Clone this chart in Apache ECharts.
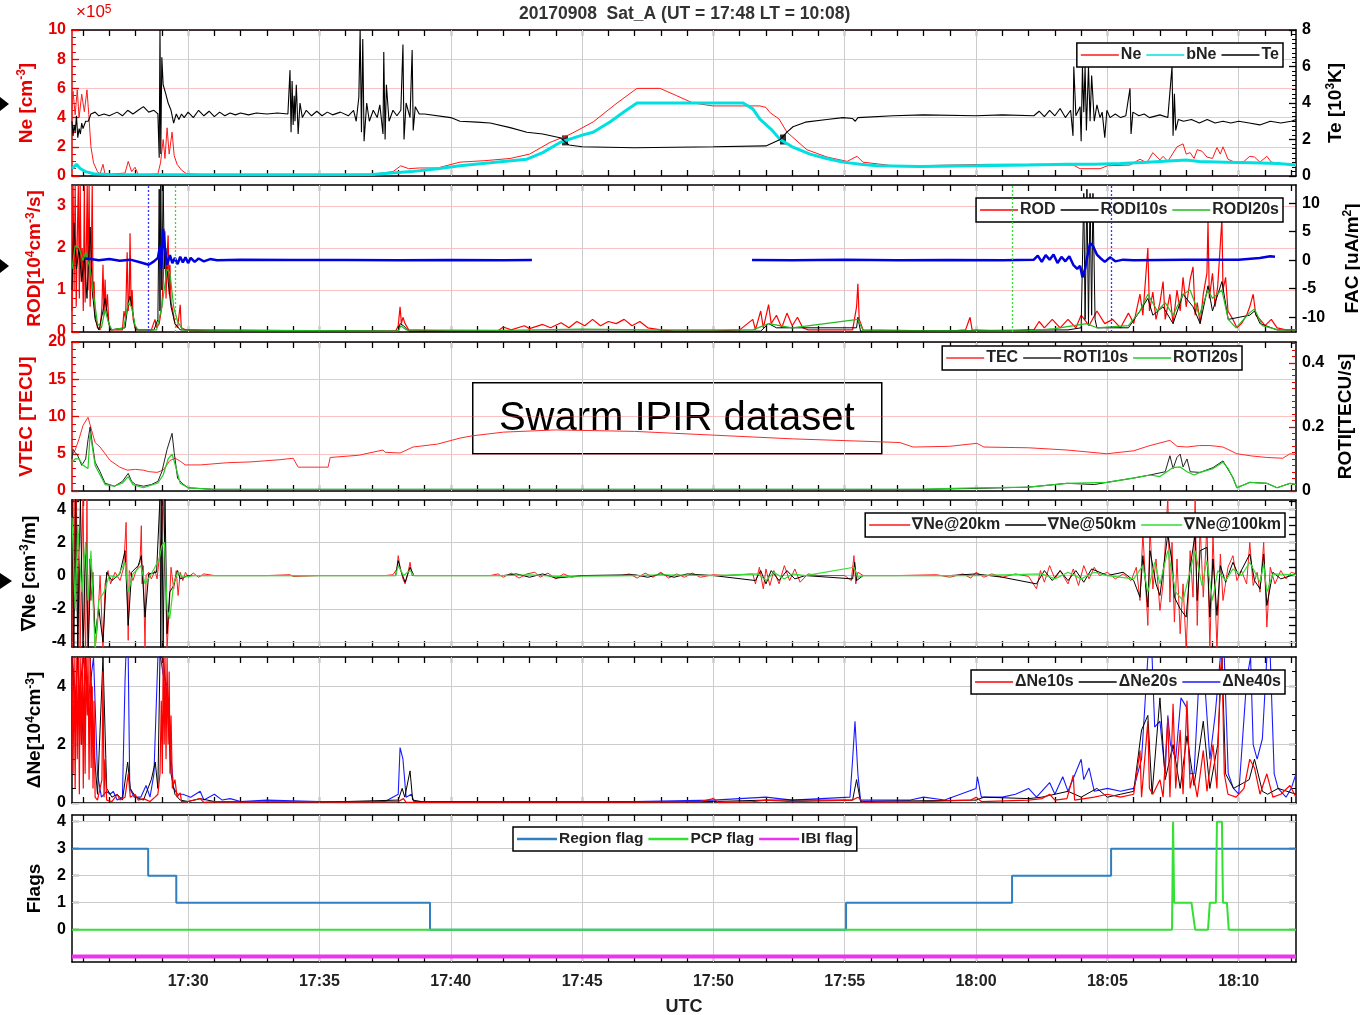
<!DOCTYPE html>
<html><head><meta charset="utf-8">
<script src="https://cdn.jsdelivr.net/npm/echarts@6/dist/echarts.min.js"></script>
<style>html,body{margin:0;padding:0;background:#fff}#c{width:1360px;height:1015px}</style>
</head><body><div id="c"></div>
<script>
// ---------------- DATA (time = minutes after 17:00 UT) ----------------
const tStart = 25.58, tEnd = 72.18;
const majorTimes = [30,35,40,45,50,55,60,65,70];
const minuteTimes = [26,27,28,29,30,31,32,33,34,35,36,37,38,39,40,41,42,43,44,45,46,47,48,49,50,51,52,53,54,55,56,57,58,59,60,61,62,63,64,65,66,67,68,69,70,71,72];

const neTicks = [0,2,4,6,8,10];
const teTicks = [0,2,4,6,8];
const rodTicks = [0,1,2,3];
const facTicks = [-10,-5,0,5,10];
const tecTicks = [0,5,10,15,20];
const rotiTicks = [0,0.2,0.4];
const gradTicks = [-4,-2,0,2,4];
const gradMinorTicks = [-4,-3.5,-3,-2.5,-2,-1.5,-1,-0.5,0,0.5,1,1.5,2,2.5,3,3.5,4,4.5];
const dneTicks = [0,2,4];
const flagTicks = [0,1,2,3,4];

// Panel 1: Ne (1e5 cm^-3), bNe, Te (1e3 K)
const neData = [[25.58,4.6],[25.62,5.8],[25.70,4.2],[25.78,5.9],[25.85,4.0],[25.95,5.6],[26.05,4.4],[26.15,5.9],[26.22,4.2],[26.30,2.0],[26.40,0.9],[26.55,0.3],[26.65,0.15],[26.76,0.8],[26.84,0.1],[27.0,0.1],[27.2,0.15],[27.60,0.2],[27.72,1.0],[27.85,0.3],[27.98,0.6],[28.1,0.1],[28.5,0.1],[28.85,0.15],[28.95,0.9],[29.05,2.5],[29.12,1.2],[29.20,3.3],[29.28,1.5],[29.39,3.0],[29.47,1.4],[29.58,0.8],[29.75,0.4],[29.95,0.15],[30.5,0.1],[32,0.1],[34,0.1],[36,0.1],[37,0.12],[37.8,0.3],[38.1,0.7],[38.4,0.5],[38.8,0.55],[39.5,0.55],[40.35,0.95],[41.3,1.05],[42.26,1.2],[43.0,1.5],[43.78,2.3],[44.54,2.85],[45.42,3.7],[46.33,5.0],[47.09,6.0],[47.97,6.0],[48.6,5.5],[49.22,5.0],[49.98,4.8],[51.13,4.8],[51.77,4.8],[52.0,4.7],[52.15,4.35],[52.5,3.9],[52.80,3.0],[53.56,1.8],[54.32,1.3],[55.09,1.0],[55.47,1.35],[55.69,0.95],[56.84,0.7],[57.86,0.7],[59,0.75],[60.5,0.8],[62.5,0.8],[63.7,0.75],[63.96,0.5],[64.72,0.5],[65.0,0.7],[65.86,0.75],[66.24,1.15],[66.5,0.9],[66.73,1.6],[67.0,1.1],[67.12,1.35],[67.3,1.0],[67.65,2.0],[67.88,2.2],[68.0,1.5],[68.15,1.6],[68.30,1.2],[68.42,1.8],[68.6,1.7],[68.79,1.3],[69.0,1.2],[69.17,1.95],[69.3,1.5],[69.40,2.0],[69.59,1.15],[69.9,0.9],[70.2,1.0],[70.42,1.35],[70.6,1.3],[70.81,0.95],[71.07,1.35],[71.24,0.95],[71.6,0.85],[71.95,0.8],[72.18,0.8]];
const bneData = [[25.58,0.5],[25.75,0.8],[25.9,0.5],[26.1,0.3],[26.4,0.15],[27,0.1],[30,0.08],[34,0.08],[37,0.1],[38.5,0.3],[39.5,0.5],[40.35,0.7],[41.5,0.9],[42.90,1.15],[43.5,1.6],[44.16,2.3],[45.0,2.8],[45.42,3.0],[46.06,3.7],[46.6,4.4],[47.09,5.0],[49,5.0],[51.13,5.0],[51.5,4.6],[51.77,3.9],[52.2,3.2],[52.54,2.5],[53.0,2.0],[53.68,1.5],[54.3,1.2],[54.93,0.95],[55.6,0.8],[56.23,0.7],[57.86,0.65],[60,0.7],[62,0.75],[63.5,0.8],[64.5,0.8],[65.5,0.85],[66.5,0.95],[67.5,1.05],[68.0,1.1],[68.5,1.0],[69.5,0.95],[70.5,0.9],[71.5,0.85],[72.18,0.75]];
const teData = [[25.58,3.0],[25.62,2.2],[25.66,2.8],[25.70,2.4],[25.75,3.3],[25.80,2.1],[25.85,2.6],[25.9,2.3],[25.95,2.9],[26.0,2.6],[26.1,3.0],[26.2,3.0],[26.3,3.4],[26.46,3.5],[26.6,3.3],[26.8,3.4],[27.0,3.3],[27.3,3.5],[27.5,3.3],[27.7,3.6],[27.9,3.4],[28.1,3.6],[28.3,3.8],[28.5,3.5],[28.7,3.6],[28.85,3.4],[28.90,1.0],[28.93,8.0],[28.96,1.2],[29.0,6.5],[29.05,5.0],[29.15,4.5],[29.24,4.0],[29.35,3.6],[29.45,2.9],[29.55,3.4],[29.65,3.1],[29.75,3.4],[29.85,3.2],[30.0,3.5],[30.2,3.2],[30.4,3.6],[30.6,3.3],[30.8,3.55],[31.0,3.25],[31.2,3.5],[31.4,3.3],[31.6,3.45],[31.8,3.35],[32.0,3.45],[32.3,3.35],[32.6,3.45],[33.0,3.4],[33.4,3.45],[33.8,3.4],[33.88,5.8],[33.92,2.4],[33.96,5.2],[34.0,2.8],[34.04,4.4],[34.07,3.0],[34.12,5.0],[34.19,2.3],[34.26,4.0],[34.35,3.2],[34.5,3.6],[34.7,3.3],[34.9,3.55],[35.1,3.3],[35.3,3.5],[35.5,3.35],[35.8,3.5],[36.1,3.3],[36.3,3.6],[36.4,3.0],[36.5,4.3],[36.55,8.0],[36.6,2.4],[36.65,7.5],[36.7,1.9],[36.8,4.0],[36.9,3.0],[37.05,3.6],[37.2,3.2],[37.3,3.9],[37.42,2.3],[37.45,6.8],[37.5,2.0],[37.55,5.0],[37.65,3.0],[37.8,3.6],[37.95,3.3],[38.1,3.6],[38.18,7.2],[38.22,2.0],[38.3,4.0],[38.45,3.2],[38.53,6.9],[38.57,2.5],[38.65,3.8],[38.8,3.4],[39.0,3.4],[40.0,3.2],[40.35,3.0],[41.0,2.95],[41.5,2.9],[42.26,2.65],[42.90,2.4],[43.5,2.3],[44.16,2.1],[44.5,1.7],[45.0,1.6],[47,1.55],[50,1.6],[52.0,1.65],[52.54,2.0],[52.80,2.4],[53.03,2.7],[53.5,2.95],[54.32,3.1],[54.93,3.2],[55.3,3.15],[55.4,3.0],[55.5,3.2],[56.84,3.3],[58,3.35],[60,3.3],[61,3.35],[62.2,3.3],[62.4,3.55],[62.6,3.25],[62.8,3.6],[63.0,3.3],[63.2,3.7],[63.4,3.2],[63.6,3.6],[63.69,2.2],[63.72,6.0],[63.8,3.3],[63.96,3.8],[64.0,1.9],[64.05,6.0],[64.1,3.5],[64.15,6.0],[64.2,2.5],[64.28,6.0],[64.34,3.0],[64.4,5.5],[64.5,3.0],[64.6,3.9],[64.72,3.2],[64.8,3.5],[64.9,2.1],[64.98,3.6],[65.1,3.2],[65.3,3.4],[65.5,3.2],[65.7,3.3],[65.86,4.8],[65.9,2.3],[65.97,3.5],[66.2,3.3],[66.4,3.4],[66.6,3.2],[67.0,3.35],[67.3,3.2],[67.46,6.0],[67.5,2.2],[67.55,4.5],[67.6,2.5],[67.7,3.1],[67.9,3.0],[68.2,3.1],[68.5,2.9],[68.8,3.1],[69.1,2.9],[69.4,3.0],[69.7,2.9],[70.0,3.0],[70.4,2.9],[70.8,2.8],[71.2,3.0],[71.6,2.9],[72.0,3.0],[72.18,3.1]];
const teMarks = [[44.35,1.95],[52.65,2.0]];

// Panel 2: ROD, RODI10s, RODI20s (1e4 cm^-3/s), FAC (uA/m^2)
const rodData = [[25.58,0.5],[25.62,3.5],[25.66,1.0],[25.70,3.5],[25.74,0.6],[25.78,2.2],[25.82,3.5],[25.86,0.8],[25.89,3.5],[25.93,1.2],[25.97,2.0],[26.01,0.5],[26.05,3.5],[26.08,0.7],[26.12,1.8],[26.16,3.5],[26.19,1.0],[26.23,3.5],[26.27,0.6],[26.31,1.5],[26.35,3.5],[26.38,0.8],[26.42,1.2],[26.46,0.4],[26.55,0.1],[26.65,0.05],[26.72,0.6],[26.76,1.6],[26.80,0.4],[26.84,1.25],[26.88,0.5],[26.93,0.9],[26.98,0.2],[27.05,0.05],[27.5,0.05],[27.56,0.5],[27.62,0.3],[27.68,1.9],[27.72,0.5],[27.76,0.9],[27.79,2.35],[27.83,0.6],[27.87,1.0],[27.91,0.3],[27.98,0.1],[28.1,0.05],[28.6,0.05],[28.74,0.3],[28.8,0.1],[28.9,0.2],[29.0,0.6],[29.05,1.2],[29.12,2.4],[29.16,0.8],[29.20,1.8],[29.24,2.3],[29.28,0.9],[29.31,1.6],[29.35,0.7],[29.42,0.5],[29.5,0.2],[29.6,0.1],[29.70,0.65],[29.74,0.1],[29.9,0.05],[31,0.02],[35,0.02],[37.9,0.02],[38.0,0.15],[38.07,0.6],[38.12,0.2],[38.18,0.35],[38.26,0.2],[38.4,0.05],[40,0.02],[41.8,0.03],[42.0,0.12],[42.3,0.05],[42.8,0.15],[43.0,0.08],[43.5,0.18],[43.8,0.1],[44.2,0.22],[44.5,0.1],[44.8,0.25],[45.1,0.15],[45.4,0.3],[45.7,0.15],[46.0,0.25],[46.3,0.2],[46.6,0.3],[46.9,0.15],[47.2,0.25],[47.5,0.1],[48.0,0.05],[48.5,0.02],[50,0.02],[51.0,0.05],[51.5,0.3],[51.6,0.05],[51.8,0.5],[51.9,0.1],[52.1,0.65],[52.2,0.2],[52.4,0.4],[52.6,0.1],[52.8,0.45],[53.0,0.15],[53.2,0.35],[53.4,0.1],[53.6,0.05],[55.3,0.05],[55.45,0.6],[55.50,1.15],[55.55,0.3],[55.7,0.05],[59,0.02],[59.6,0.05],[59.77,0.35],[59.85,0.05],[61,0.02],[62.2,0.05],[62.4,0.25],[62.6,0.1],[62.9,0.3],[63.2,0.1],[63.5,0.3],[63.8,0.1],[64.0,0.4],[64.3,0.15],[64.6,0.5],[64.9,0.2],[65.2,0.3],[65.5,0.1],[65.8,0.45],[66.0,0.2],[66.24,0.9],[66.35,0.4],[66.54,2.0],[66.6,0.5],[66.73,0.95],[66.85,0.3],[67.0,0.7],[67.12,1.2],[67.2,0.3],[67.38,0.9],[67.5,0.2],[67.65,1.0],[67.77,0.5],[67.88,1.3],[68.0,0.6],[68.15,1.25],[68.26,1.55],[68.34,0.4],[68.42,0.7],[68.53,0.2],[68.65,0.9],[68.79,1.4],[68.83,2.65],[68.88,0.8],[69.0,1.4],[69.1,0.6],[69.2,1.1],[69.36,2.7],[69.40,1.0],[69.5,1.3],[69.59,0.5],[69.78,0.3],[69.93,0.1],[70.1,0.2],[70.3,0.4],[70.42,0.6],[70.55,0.9],[70.65,0.4],[70.81,0.3],[71.0,0.15],[71.24,0.3],[71.46,0.1],[71.8,0.05],[72.18,0.05]];
const rodi10Data = [[25.58,1.0],[25.65,2.6],[25.75,1.5],[25.85,2.0],[25.95,1.2],[26.05,1.8],[26.15,0.8],[26.27,2.5],[26.35,1.0],[26.46,0.3],[26.6,0.05],[26.76,0.5],[26.84,0.8],[26.95,0.3],[27.05,0.05],[27.6,0.1],[27.72,0.7],[27.79,0.85],[27.91,0.4],[28.0,0.05],[28.7,0.05],[28.85,0.3],[28.9,3.4],[28.93,0.5],[28.96,3.5],[29.0,1.0],[29.05,3.5],[29.1,1.5],[29.15,2.0],[29.24,1.2],[29.35,0.6],[29.5,0.2],[29.7,0.05],[38.0,0.02],[38.07,0.2],[38.2,0.15],[38.4,0.02],[51.8,0.02],[52.1,0.2],[52.4,0.1],[55.45,0.1],[55.50,0.35],[55.6,0.02],[63.5,0.05],[64.0,0.1],[64.10,3.3],[64.15,0.3],[64.22,3.4],[64.28,0.2],[64.34,3.3],[64.40,0.4],[64.45,3.3],[64.53,0.3],[64.6,0.1],[65.8,0.1],[66.24,0.5],[66.54,0.8],[66.73,0.4],[67.12,0.6],[67.5,0.2],[67.88,0.9],[68.26,0.6],[68.53,0.2],[68.83,1.1],[69.0,0.5],[69.36,1.2],[69.6,0.3],[70.42,0.4],[70.6,0.5],[70.81,0.2],[71.46,0.05],[72.18,0.05]];
const rodi20Data = [[25.58,1.5],[25.7,2.05],[25.85,2.0],[26.0,1.7],[26.1,1.9],[26.27,1.5],[26.4,0.9],[26.55,0.2],[26.7,0.1],[26.84,0.53],[26.98,0.2],[27.1,0.05],[27.55,0.1],[27.72,0.7],[27.85,0.6],[27.98,0.15],[28.1,0.05],[28.8,0.05],[29.0,0.6],[29.2,1.5],[29.31,1.4],[29.45,0.6],[29.6,0.25],[29.8,0.05],[38.0,0.02],[38.1,0.15],[38.3,0.05],[42,0.04],[45,0.07],[47.5,0.05],[51.5,0.05],[52.1,0.2],[53,0.1],[55.5,0.3],[55.7,0.03],[62,0.03],[63,0.08],[64.2,0.2],[64.6,0.1],[65.8,0.15],[66.24,0.5],[66.54,0.9],[66.9,0.5],[67.2,0.7],[67.5,0.4],[67.88,0.9],[68.15,1.0],[68.5,0.4],[68.83,1.0],[69.0,0.8],[69.36,1.0],[69.6,0.3],[69.9,0.1],[70.4,0.45],[70.6,0.55],[70.9,0.15],[71.5,0.05],[72.18,0.05]];
const facData = [[26.08,0.3],[26.3,0.2],[26.6,0.0],[27.0,0.2],[27.4,-0.1],[27.8,0.1],[28.2,-0.4],[28.5,-0.8],[28.7,-0.2],[28.85,0.4],[28.93,2.5],[28.98,-1.5],[29.05,5.5],[29.12,2.0],[29.2,-0.8],[29.31,0.9],[29.4,-0.5],[29.5,0.4],[29.6,-0.7],[29.7,0.6],[29.8,-0.4],[29.9,0.5],[30.0,-0.5],[30.1,0.4],[30.25,-0.3],[30.4,0.3],[30.6,-0.2],[30.84,0.2],[31.1,0.0],[32,0.1],[34,0.05],[36,0.05],[38,0.0],[40,0.05],[42,0.0],[43.09,0.05],[47,'-'],[51.47,0.05],[53,0.0],[55,0.1],[57,0.0],[59,0.05],[61,0.0],[62.2,0.1],[62.35,0.8],[62.5,-0.3],[62.65,0.9],[62.8,0.1],[62.95,1.0],[63.1,-0.5],[63.25,0.6],[63.4,-0.2],[63.55,0.7],[63.7,-0.8],[63.85,-1.5],[63.96,-1.0],[64.05,-3.0],[64.15,-1.5],[64.25,1.0],[64.34,3.0],[64.45,2.5],[64.6,1.0],[64.75,0.3],[64.9,-0.3],[65.1,0.5],[65.3,-0.2],[65.6,0.1],[66,0.0],[68,0.1],[70,0.1],[70.8,0.4],[71.2,0.7],[71.38,0.6]];
const blueMarkTimes = [28.48,65.14];
const greenMarkTimes = [29.51,61.37];

// Panel 3: TEC (TECU), ROTI10s, ROTI20s (TECU/s)
const tecData = [[25.58,4.8],[25.7,5.5],[25.85,7.0],[26.0,8.8],[26.19,9.9],[26.3,8.5],[26.46,6.5],[26.65,5.9],[27.03,4.1],[27.4,3.2],[27.68,2.8],[28.0,2.9],[28.29,2.8],[28.5,2.6],[28.82,2.5],[29.05,2.8],[29.31,4.1],[29.51,4.4],[29.70,4.0],[29.89,3.5],[30.46,3.5],[31.5,3.8],[32.36,3.9],[33.5,4.2],[34.0,4.4],[34.19,3.2],[35.33,3.2],[35.41,4.5],[36.5,4.8],[37.42,5.5],[37.5,5.2],[38.07,5.1],[38.56,5.9],[39.5,6.3],[40.35,7.1],[40.81,7.4],[42,7.9],[44,8.2],[47,8.0],[50,7.5],[53,7.0],[56.38,6.6],[57.10,6.5],[57.60,5.9],[59,6.0],[60.03,6.4],[60.3,5.9],[62,5.8],[63.46,5.5],[64.98,5.0],[66,5.4],[66.62,6.1],[67.38,6.8],[67.65,6.0],[68.03,5.9],[68.5,6.1],[68.9,6.1],[69.17,6.0],[69.4,5.9],[69.93,5.0],[70.5,4.7],[71.07,4.5],[71.68,4.4],[71.95,5.0],[72.18,4.9]];
const roti10Data = [[25.58,0.1],[25.62,0.13],[25.7,0.12],[25.8,0.11],[25.95,0.08],[26.1,0.1],[26.19,0.16],[26.27,0.2],[26.35,0.15],[26.46,0.09],[26.65,0.06],[26.84,0.024],[27.0,0.02],[27.2,0.015],[27.5,0.03],[27.72,0.055],[27.85,0.03],[28.0,0.02],[28.3,0.015],[28.6,0.02],[28.85,0.03],[29.0,0.06],[29.2,0.13],[29.39,0.18],[29.47,0.12],[29.6,0.04],[29.77,0.024],[30.0,0.01],[31,0.005],[40,0.005],[50,0.005],[58,0.005],[60,0.008],[62,0.012],[63.46,0.024],[64.5,0.02],[64.98,0.027],[65.97,0.04],[66.62,0.05],[67.2,0.06],[67.38,0.11],[67.5,0.07],[67.65,0.105],[67.77,0.115],[67.88,0.075],[68.03,0.1],[68.15,0.06],[68.53,0.058],[69.02,0.073],[69.4,0.094],[69.78,0.042],[69.93,0.01],[70.42,0.027],[71.07,0.024],[71.46,0.01],[71.95,0.024],[72.18,0.02]];
const roti20Data = [[25.58,0.09],[25.7,0.1],[25.85,0.1],[26.0,0.08],[26.19,0.07],[26.27,0.18],[26.35,0.14],[26.46,0.08],[26.65,0.05],[26.84,0.02],[27.2,0.015],[27.5,0.025],[27.72,0.045],[27.9,0.02],[28.3,0.01],[28.85,0.025],[29.05,0.05],[29.24,0.1],[29.39,0.115],[29.55,0.07],[29.7,0.024],[30.0,0.01],[31,0.005],[40,0.005],[50,0.005],[58,0.006],[60,0.01],[62,0.012],[63.46,0.024],[64.98,0.027],[65.97,0.04],[66.62,0.05],[67.0,0.045],[67.5,0.073],[67.77,0.075],[68.03,0.06],[68.3,0.05],[68.53,0.058],[69.02,0.07],[69.4,0.09],[69.6,0.07],[69.78,0.04],[69.93,0.01],[70.42,0.027],[71.07,0.024],[71.46,0.01],[71.95,0.024],[72.18,0.02]];

// Panel 4: gradient Ne (cm^-3/m)
const grad20Data = [[25.58,4.7],[25.62,-4.4],[25.66,4.7],[25.70,-1.0],[25.75,4.7],[25.80,-4.4],[25.85,2.0],[25.89,-4.4],[25.95,1.0],[26.0,4.7],[26.05,-2.0],[26.10,-4.4],[26.15,4.7],[26.19,-4.4],[26.25,1.0],[26.30,-1.5],[26.38,0.2],[26.46,-4.4],[26.55,-3.0],[26.65,0.0],[26.76,-4.4],[26.84,-0.5],[26.95,0.3],[27.05,-0.5],[27.22,0.2],[27.41,-0.3],[27.55,0.5],[27.64,3.2],[27.68,-0.5],[27.72,-3.9],[27.76,0.3],[27.9,-0.3],[28.0,0.2],[28.17,0.8],[28.22,3.0],[28.25,-0.5],[28.29,0.6],[28.36,-4.4],[28.4,0.0],[28.5,0.2],[28.6,-0.2],[28.74,0.3],[28.82,-0.2],[28.93,1.5],[29.0,2.5],[29.05,4.7],[29.1,2.0],[29.15,-1.0],[29.2,-4.4],[29.28,-2.0],[29.35,0.5],[29.45,-0.8],[29.55,0.3],[29.62,-1.2],[29.7,0.2],[29.8,-0.3],[29.9,0.2],[30.0,-0.1],[30.2,0.15],[30.4,-0.1],[30.6,0.1],[31.0,0.0],[33.0,0.0],[33.88,0.05],[34.0,-0.05],[35,0.0],[37.5,0.0],[37.8,0.05],[37.95,0.4],[38.0,1.2],[38.07,0.5],[38.18,-0.2],[38.26,-0.5],[38.35,0.0],[38.45,0.8],[38.53,0.0],[39,0.0],[41.5,0.0],[41.8,0.1],[42.0,-0.1],[42.3,0.15],[42.6,-0.15],[42.9,0.1],[43.2,0.2],[43.4,-0.1],[43.7,0.15],[44.0,-0.2],[44.3,0.1],[44.6,-0.1],[45,0.0],[46.5,0.0],[46.8,0.1],[47.1,-0.15],[47.4,0.15],[47.7,-0.1],[48.0,0.2],[48.3,-0.15],[48.6,0.1],[48.9,-0.1],[49.2,0.15],[49.5,-0.1],[50,0.05],[50.5,0.0],[51.5,0.1],[51.6,-0.5],[51.75,0.5],[51.9,-0.8],[52.0,0.4],[52.15,-0.6],[52.3,0.3],[52.5,-0.5],[52.7,0.6],[52.9,-0.3],[53.1,0.4],[53.3,-0.4],[53.6,0.1],[54.0,0.0],[55.0,0.0],[55.25,-0.3],[55.35,1.2],[55.42,-0.5],[55.5,0.2],[55.7,0.0],[57,0.0],[58.5,0.05],[59,-0.1],[59.5,0.1],[59.8,-0.15],[60.0,0.2],[60.3,-0.1],[60.6,0.1],[61,-0.1],[61.5,0.1],[62,-0.05],[62.3,-0.8],[62.45,0.3],[62.6,-0.4],[62.8,0.6],[63.0,-0.2],[63.2,0.3],[63.5,-0.5],[63.7,0.4],[63.9,-0.6],[64.1,0.6],[64.3,-0.2],[64.5,0.5],[64.7,0.0],[65,0.2],[65.3,-0.2],[65.6,0.1],[65.9,-0.3],[66.1,0.5],[66.24,-1.5],[66.35,2.6],[66.54,-3.0],[66.62,3.0],[66.73,-0.8],[66.85,1.0],[67.0,-2.1],[67.12,-0.5],[67.3,4.7],[67.38,-1.6],[67.46,2.0],[67.55,-2.8],[67.65,1.0],[67.77,-3.5],[67.88,-0.5],[68.0,-4.4],[68.15,1.5],[68.26,-1.3],[68.34,4.7],[68.42,-3.0],[68.53,3.0],[68.65,-1.3],[68.79,3.0],[68.9,-4.4],[69.02,2.5],[69.17,-4.4],[69.30,1.3],[69.4,-1.5],[69.59,0.5],[69.78,1.2],[69.93,-0.3],[70.1,0.3],[70.3,-0.5],[70.42,2.0],[70.55,-0.6],[70.7,0.2],[70.81,-1.0],[70.95,2.0],[71.07,-3.1],[71.2,0.5],[71.38,-0.5],[71.6,0.3],[71.8,-0.2],[72.0,0.2],[72.18,0.1]];
const grad50Data = [[25.58,4.7],[25.65,-4.4],[25.72,4.7],[25.8,-4.4],[25.9,4.7],[26.0,-4.4],[26.1,2.0],[26.2,-4.4],[26.3,1.0],[26.38,-1.0],[26.46,-3.5],[26.6,-2.0],[26.76,-4.0],[26.9,0.2],[27.1,-0.3],[27.4,0.1],[27.6,1.5],[27.72,-3.0],[27.85,0.2],[28.1,0.6],[28.22,1.2],[28.36,-2.5],[28.5,0.1],[28.8,0.2],[28.93,4.7],[28.96,-4.4],[29.0,4.7],[29.05,-4.4],[29.12,4.7],[29.2,-3.5],[29.3,-1.0],[29.45,-0.6],[29.6,0.3],[29.7,-0.2],[30,0.0],[33.0,0.0],[37.9,0.0],[38.0,0.9],[38.1,0.3],[38.26,-0.4],[38.45,0.5],[38.6,0.0],[42,0.0],[42.5,0.1],[43,-0.1],[43.5,0.1],[44,-0.15],[45,0.0],[47,0.05],[47.5,-0.1],[48,0.1],[48.5,-0.1],[49,0.1],[50,0.0],[51.6,-0.3],[51.8,0.3],[52.0,-0.5],[52.2,0.3],[52.5,-0.3],[52.8,0.3],[53.1,-0.2],[53.5,0.0],[55.3,-0.2],[55.38,0.8],[55.45,-0.3],[55.7,0.0],[59,0.0],[60,0.1],[61,-0.1],[62.3,-0.5],[62.6,0.3],[62.9,-0.3],[63.2,0.3],[63.5,-0.3],[63.8,0.3],[64.1,-0.4],[64.4,0.4],[65,0.0],[65.6,0.2],[66.0,-0.3],[66.24,-1.3],[66.35,1.2],[66.54,-1.9],[66.62,1.5],[66.85,-0.5],[67.0,-1.2],[67.3,2.5],[67.46,0.8],[67.55,-1.3],[67.77,-2.0],[68.0,-2.5],[68.15,0.5],[68.34,2.5],[68.42,-1.5],[68.53,1.5],[68.79,1.7],[68.9,-2.5],[69.02,1.0],[69.17,-2.4],[69.3,0.6],[69.5,-0.4],[69.78,0.8],[70.0,0.0],[70.42,1.3],[70.6,-0.3],[70.81,-0.8],[70.95,1.3],[71.07,-1.8],[71.3,0.2],[71.6,-0.2],[72.18,0.1]];
const grad100Data = [[25.58,3.5],[25.7,-2.0],[25.8,3.0],[25.95,-1.0],[26.1,2.0],[26.19,-1.5],[26.3,1.5],[26.46,-4.4],[26.6,-1.5],[26.8,-1.0],[27.0,0.0],[27.3,-0.1],[27.6,0.8],[27.72,-1.0],[27.9,0.1],[28.2,0.6],[28.36,-0.5],[28.6,0.1],[28.9,1.0],[29.0,1.8],[29.1,2.0],[29.2,-2.0],[29.3,-2.6],[29.45,-0.5],[29.6,0.2],[29.8,-0.1],[30.2,0.0],[37.9,0.0],[38.0,0.6],[38.2,0.0],[38.45,0.3],[38.6,0.0],[42,0.0],[43,0.05],[44,-0.05],[47,0.0],[48,0.05],[50,0.0],[51.7,0.1],[52,-0.3],[52.3,0.2],[52.7,-0.2],[53.0,0.1],[53.5,0.0],[55.35,0.5],[55.5,-0.1],[55.7,0.0],[60,0.0],[62.5,0.1],[63,-0.2],[63.5,0.2],[64,-0.2],[64.5,0.2],[65,0.0],[66.0,-0.2],[66.35,0.6],[66.54,-1.0],[66.8,0.8],[67.0,-0.5],[67.3,1.5],[67.6,-1.0],[67.88,-1.5],[68.15,0.3],[68.34,1.5],[68.6,-0.6],[68.79,0.9],[69.0,-1.5],[69.2,0.3],[69.5,-0.3],[69.78,0.4],[70.1,0.0],[70.42,0.8],[70.81,-0.4],[70.95,0.7],[71.07,-1.0],[71.3,0.1],[72.18,0.05]];

// Panel 5: delta Ne (1e4 cm^-3)
const dne10Data = [[25.58,5],[25.62,1],[25.66,5],[25.70,0.5],[25.74,5],[25.78,1.5],[25.82,5],[25.86,0.3],[25.89,5],[25.93,2],[25.97,5],[26.01,0.5],[26.05,5],[26.08,1],[26.12,5],[26.16,3],[26.19,5],[26.23,0.8],[26.27,5],[26.31,1.2],[26.35,4],[26.38,0.5],[26.42,3.5],[26.46,0.2],[26.55,0.1],[26.72,0.8],[26.76,4.5],[26.80,0.2],[26.84,1.5],[26.9,0.1],[27.1,0.05],[27.3,0.3],[27.41,0.1],[27.6,0.2],[27.72,1.0],[27.8,0.2],[27.98,0.3],[28.1,0.1],[28.3,0.15],[28.55,0.05],[28.74,0.2],[28.85,0.3],[28.93,1.0],[28.98,3.5],[29.02,1.0],[29.05,5],[29.09,2],[29.12,5],[29.16,1.5],[29.2,5],[29.24,2.0],[29.28,4.5],[29.31,1.0],[29.35,3.0],[29.4,0.5],[29.5,0.8],[29.58,0.2],[29.7,0.35],[29.75,0.05],[30.0,0.05],[30.46,0.15],[30.6,0.02],[31,0.05],[32,0.03],[34,0.05],[36,0.03],[38.0,0.05],[38.2,0.15],[38.3,0.02],[42,0.03],[47,0.03],[49.5,0.05],[50,0.15],[50.2,0.02],[51.5,0.05],[52,0.1],[53,0.05],[55.3,0.1],[55.5,0.2],[55.7,0.03],[58,0.05],[59.8,0.1],[60,0.2],[60.2,0.05],[62,0.1],[62.5,0.15],[62.8,0.3],[63.0,0.1],[63.46,0.15],[63.7,0.95],[63.75,0.1],[64.5,0.2],[65,0.3],[65.5,0.2],[66.0,0.3],[66.24,1.8],[66.3,0.2],[66.54,2.8],[66.6,0.5],[66.73,0.3],[67.0,0.8],[67.12,0.2],[67.3,2.9],[67.38,0.2],[67.5,3.4],[67.6,0.5],[67.77,2.5],[67.88,0.3],[68.03,3.5],[68.15,0.5],[68.26,1.0],[68.42,0.2],[68.65,1.8],[68.79,0.4],[69.02,2.0],[69.17,0.5],[69.3,4.5],[69.36,5],[69.45,1.0],[69.59,0.3],[69.9,0.2],[70.2,0.5],[70.42,1.5],[70.6,1.2],[70.81,0.3],[71.07,1.0],[71.3,0.2],[71.6,0.3],[71.95,0.6],[72.18,0.2]];
const dne20Data = [[25.58,5],[25.7,3],[25.8,5],[25.95,2],[26.1,5],[26.27,5],[26.4,2],[26.55,0.3],[26.76,5],[26.82,5],[26.9,0.5],[27.1,0.2],[27.3,0.3],[27.5,0.1],[27.7,1.4],[27.8,0.5],[28.0,0.2],[28.3,0.1],[28.6,0.8],[28.75,1.4],[28.85,0.5],[28.93,5],[29.05,5],[29.2,3.5],[29.35,1.0],[29.5,0.3],[29.7,0.1],[30.0,0.05],[30.46,0.15],[31,0.05],[33,0.03],[36,0.05],[38.0,0.1],[38.15,0.5],[38.25,0.2],[38.45,1.1],[38.55,0.1],[39,0.03],[45,0.03],[50,0.05],[52,0.1],[55.3,0.1],[55.45,0.8],[55.6,0.05],[60,0.1],[60.3,0.2],[62,0.15],[62.5,0.2],[63.5,0.4],[64,0.2],[64.6,0.5],[65.0,0.2],[65.5,0.3],[66.0,0.4],[66.3,2.5],[66.54,3.0],[66.7,0.3],[67.0,3.6],[67.2,0.8],[67.5,2.0],[67.77,0.5],[68.03,2.3],[68.3,0.6],[68.65,2.8],[68.9,0.5],[69.2,2.0],[69.36,5],[69.5,1.0],[69.8,0.5],[70.4,0.8],[70.6,1.5],[70.9,0.4],[71.1,0.3],[71.5,0.5],[72.18,0.3]];
const dne40Data = [[25.58,5],[25.8,3.0],[26.0,5],[26.2,3.5],[26.4,5],[26.55,1.0],[26.7,0.2],[26.9,0.4],[27.03,0.3],[27.15,0.4],[27.3,0.1],[27.5,0.2],[27.6,4.2],[27.63,5],[27.72,5],[27.78,0.5],[27.95,0.2],[28.2,0.2],[28.4,0.6],[28.55,0.2],[28.7,1.0],[28.85,5],[28.95,5],[29.05,4.4],[29.2,4],[29.3,2.1],[29.45,0.5],[29.6,0.3],[29.8,0.3],[30.1,0.2],[30.46,0.4],[30.6,0.1],[31,0.3],[31.3,0.1],[31.6,0.15],[32.0,0.05],[33,0.1],[35,0.05],[37.5,0.05],[38.0,0.3],[38.07,1.9],[38.18,1.5],[38.3,0.2],[38.5,0.3],[38.6,0.05],[41,0.05],[44,0.05],[47,0.05],[50,0.1],[52,0.2],[53,0.1],[55.2,0.2],[55.3,1.5],[55.39,2.8],[55.5,1.0],[55.6,0.1],[57.5,0.1],[58,0.2],[58.8,0.1],[60,0.5],[60.05,0.9],[60.2,0.2],[61,0.2],[61.5,0.3],[62.0,0.5],[62.3,0.2],[62.8,0.7],[63.0,0.3],[63.3,0.9],[63.5,0.4],[64.0,1.5],[64.1,0.8],[64.3,1.2],[64.5,0.4],[65.0,0.5],[65.5,0.4],[66.0,0.5],[66.3,1.5],[66.54,5],[66.7,5],[66.8,2.6],[67.0,2.8],[67.2,1.0],[67.3,3.0],[67.4,2.0],[67.6,1.5],[67.8,3.6],[68.0,3.3],[68.15,1.0],[68.3,1.0],[68.5,4.5],[68.7,4.2],[68.9,1.5],[69.1,3.0],[69.3,5],[69.45,5],[69.6,1.0],[69.8,0.5],[70.0,0.3],[70.3,4.2],[70.45,5],[70.55,2.0],[70.7,1.5],[70.9,2.2],[71.07,5],[71.2,5],[71.35,1.0],[71.5,0.5],[71.8,0.2],[72.0,0.5],[72.18,1.0]];

// Panel 6: flags
const regionFlag = [[25.58,3],[28.48,2],[29.55,1],[39.21,0],[55.05,1],[61.37,2],[65.14,3],[72.18,3]];
const pcpFlag = [[25.58,0],[67.46,0],[67.50,4],[67.54,1],[68.2,1],[68.34,0],[68.83,0],[68.9,1],[69.13,1],[69.17,4],[69.36,4],[69.40,1],[69.55,1],[69.62,0],[72.18,0]];
const ibiFlag = [[25.58,-1],[72.18,-1]];

// ---------------- CHART ----------------
const FONT = '"Liberation Sans", Arial, Helvetica, sans-serif';
const RED = '#e60000';
const SUP = {sup:{fontSize:12, verticalAlign:'top', lineHeight:12}};
const grids = [
  {top:30, height:146},
  {top:185, height:147},
  {top:342, height:149},
  {top:500, height:147},
  {top:657, height:146},
  {top:815, height:147}
];
function fmtTime(v){ const h = 17 + Math.floor(v/60); const m = Math.round(v - Math.floor(v/60)*60); return h + ':' + (m<10?'0':'') + m; }

const xAxes = [];
grids.forEach((g,i)=>{
  ['bottom','top'].forEach(pos=>{
    const isLabel = (i===5 && pos==='bottom');
    xAxes.push({
      type:'value', gridIndex:i, position:pos, min:tStart, max:tEnd,
      axisLine:{show:true, onZero:false, lineStyle:{color:'#000', width:1.5}},
      axisTick:{show:true, inside:true, length:6, customValues:minuteTimes, lineStyle:{color:'#000', width:1.3}},
      axisLabel:{show:isLabel, customValues:majorTimes, formatter:fmtTime, color:'#222', fontSize:16, fontWeight:'bold', fontFamily:FONT, margin:12},
      splitLine:{show:false},
      name: isLabel ? 'UTC' : '', nameLocation:'middle', nameGap:36,
      nameTextStyle:{color:'#222', fontSize:18, fontWeight:'bold', fontFamily:FONT}
    });
  });
});

function yAx(gi, pos, o){
  const col = o.color || '#000';
  return {
    type:'value', gridIndex:gi, position:pos, min:o.min, max:o.max, interval:o.interval,
    axisLine:{show:true, onZero:false, lineStyle:{color:col, width:1.5}},
    axisTick:{show:true, inside:true, length:7, customValues:o.ticks, lineStyle:{color:o.tickColor||col, width:1.3}},
    minorTick:{show:!!o.minor, splitNumber:o.minor||5, length:4, lineStyle:{color:o.tickColor||col, width:1}},
    axisLabel:{show:!!o.labels, customValues:o.labels, color:o.labelColor||col, fontSize:16, fontWeight:'bold', fontFamily:FONT, margin:6, formatter:o.fmt},
    splitLine:{show:!!o.split, lineStyle:{color:o.split||'#ccc', width:1}},
    name:o.name||'', nameLocation:'middle', nameGap:o.gap||30, nameRotate:90,
    nameTextStyle:{color:o.nameColor||col, fontSize:19, fontWeight:'bold', fontFamily:FONT, rich:SUP, lineHeight:22}
  };
}
const PINK = 'rgba(240,80,80,0.35)';
const yAxes = [
  yAx(0,'left',{min:0,max:10,interval:2,ticks:neTicks,labels:neTicks,minor:4,color:RED,split:PINK,name:'Ne [cm{sup|-3}]',gap:20}),
  yAx(0,'right',{min:0,max:8,interval:2,ticks:teTicks,labels:teTicks,minor:8,color:'#000',tickColor:'#000',name:'Te [10{sup|3}K]',gap:29}),
  yAx(1,'left',{min:0,max:3.5,interval:1,ticks:rodTicks,labels:rodTicks,minor:5,color:RED,split:PINK,name:'ROD[10{sup|4}cm{sup|-3}/s]',gap:10}),
  yAx(1,'right',{min:-12.6,max:13.2,ticks:facTicks,labels:facTicks,color:'#000',name:'FAC [uA/m{sup|2}]',gap:46}),
  yAx(2,'left',{min:0,max:20,interval:5,ticks:tecTicks,labels:tecTicks,minor:5,color:RED,split:PINK,name:'VTEC [TECU]',gap:18}),
  yAx(2,'right',{min:0,max:0.465,interval:0.2,ticks:rotiTicks,labels:rotiTicks,minor:10,color:'#000',tickColor:RED,name:'ROTI[TECU/s]',gap:37,fmt:v=>v===0?'0':String(v)}),
  yAx(3,'left',{min:-4.3,max:4.55,ticks:gradMinorTicks,labels:gradTicks,color:'#000',name:'∇Ne [cm{sup|-3}/m]',gap:16}),
  yAx(3,'right',{min:-4.3,max:4.55,ticks:gradMinorTicks,color:'#000'}),
  yAx(4,'left',{min:0,max:5,interval:2,ticks:dneTicks,labels:dneTicks,minor:4,color:'#000',name:'ΔNe[10{sup|4}cm{sup|-3}]',gap:11}),
  yAx(4,'right',{min:0,max:5,interval:2,ticks:dneTicks,minor:4,color:'#000'}),
  yAx(5,'left',{min:-1.2,max:4.25,ticks:flagTicks,labels:flagTicks,color:'#000',name:'Flags',gap:14}),
  yAx(5,'right',{min:-1.2,max:4.25,ticks:flagTicks,color:'#000'})
];

function gridLines(extraY){
  const d = majorTimes.map(v=>({xAxis:v}));
  (extraY||[]).forEach(v=>d.push({yAxis:v}));
  return {silent:true, symbol:'none', z:1, label:{show:false}, emphasis:{disabled:true},
          lineStyle:{color:'#cccccc', width:1, type:'solid'}, data:d};
}
function ln(name, gi, yi, data, color, width, extra){
  return Object.assign({type:'line', name:name, xAxisIndex:2*gi, yAxisIndex:yi, data:data,
    symbol:'none', showSymbol:false, animation:false, lineStyle:{color:color, width:width}, itemStyle:{color:color},
    emphasis:{disabled:true}}, extra||{});
}

const series = [
  ln('Ne',0,0,neData,'#ff1a1a',1,{markLine:gridLines()}),
  ln('bNe',0,0,bneData,'#00e0e0',3),
  ln('Te',0,1,teData,'#000',1.1),
  {type:'scatter', name:'marks', xAxisIndex:0, yAxisIndex:1, data:teMarks, symbol:'rect', symbolSize:[6,10], itemStyle:{color:'#000'}, animation:false, silent:true},

  ln('ROD',1,2,rodData,'#ff0000',1.2,{markLine:gridLines()}),
  ln('RODI10s',1,2,rodi10Data,'#000',1),
  ln('RODI20s',1,2,rodi20Data,'#22bb22',1.2),
  ln('FAC',1,3,facData,'#0000e0',2.5,{markLine:{silent:true, symbol:'none', label:{show:false}, emphasis:{disabled:true},
     data:[...blueMarkTimes.map(v=>({xAxis:v, lineStyle:{color:'#3333ff', type:[2,2], width:1.3}})),
           ...greenMarkTimes.map(v=>({xAxis:v, lineStyle:{color:'#33dd33', type:[2,2], width:1.3}}))]}}),

  ln('TEC',2,4,tecData,'#ff2a2a',1,{markLine:gridLines()}),
  ln('ROTI10s',2,5,roti10Data,'#222',1),
  ln('ROTI20s',2,5,roti20Data,'#22cc22',1.2),

  ln('∇Ne@20km',3,6,grad20Data,'#ff1a1a',1,{markLine:gridLines(gradTicks)}),
  ln('∇Ne@50km',3,6,grad50Data,'#000',1),
  ln('∇Ne@100km',3,6,grad100Data,'#33dd33',1.2),

  ln('ΔNe40s',4,8,dne40Data,'#1a1aff',1.1,{markLine:gridLines(dneTicks)}),
  ln('ΔNe20s',4,8,dne20Data,'#000',1),
  ln('ΔNe10s',4,8,dne10Data,'#ff0000',1.2),

  ln('Region flag',5,10,regionFlag,'#2f7fc1',2,{step:'end', markLine:gridLines(flagTicks)}),
  ln('PCP flag',5,10,pcpFlag,'#33e033',2),
  ln('IBI flag',5,10,ibiFlag,'#ee33ee',4)
];

function legend(names, pos, itemWidth, itemHeight, fs){
  return Object.assign({show:true, data:names, selectedMode:false, orient:'horizontal', icon:'rect',
    itemWidth:itemWidth||38, itemHeight:itemHeight||1.5, itemGap:5, padding:[3,4],
    borderColor:'#000', borderWidth:1.5, backgroundColor:'#fff', borderRadius:0,
    textStyle:{fontSize:fs||16, fontWeight:'bold', color:'#222', fontFamily:FONT, padding:[0,0,0,-3], lineHeight:18}}, pos);
}

const option = {
  animation:false,
  backgroundColor:'#fff',
  grid: grids.map(g=>({left:72, right:64, top:g.top, height:g.height, containLabel:false, outerBoundsMode:'none'})),
  xAxis: xAxes,
  yAxis: yAxes,
  legend: [
    legend(['Ne','bNe','Te'],{right:77, top:43}),
    legend(['ROD','RODI10s','RODI20s'],{right:77, top:198}),
    legend(['TEC','ROTI10s','ROTI20s'],{right:118, top:346}),
    legend(['∇Ne@20km','∇Ne@50km','∇Ne@100km'],{right:75, top:513}, 41),
    legend(['ΔNe10s','ΔNe20s','ΔNe40s'],{right:75, top:670}),
    legend(['Region flag','PCP flag','IBI flag'],{left:513, top:827}, 40, 2.5, 15.5)
  ],
  series: series,
  graphic: [
    {type:'text', left:519, top:5, style:{text:'20170908  Sat_A (UT = 17:48 LT = 10:08)', fontSize:17.5, fontWeight:'bold', fill:'#333', fontFamily:FONT}},
    {type:'text', left:76, top:4, style:{text:'×10{sup|5}', fontSize:17, fill:RED, fontFamily:FONT, rich:{sup:{fontSize:12, verticalAlign:'top', lineHeight:12, fill:RED}}}},
    {type:'polygon', shape:{points:[[0,97],[9,104],[0,111]]}, style:{fill:'#000'}},
    {type:'polygon', shape:{points:[[0,259],[9,266],[0,273]]}, style:{fill:'#000'}},
    {type:'polygon', shape:{points:[[0,573],[12,581],[0,589]]}, style:{fill:'#000'}},
    {type:'group', left:472, top:382, z:100, children:[
      {type:'rect', shape:{x:0, y:0, width:409, height:71}, style:{fill:'#fff', stroke:'#000', lineWidth:1.5}},
      {type:'text', x:204, y:36, style:{text:'Swarm IPIR dataset', fontSize:40, fill:'#000', fontFamily:FONT, align:'center', verticalAlign:'middle'}}
    ]}
  ]
};
const chart = echarts.init(document.getElementById('c'), null, {renderer:'canvas'});
chart.setOption(option);
</script>
</body></html>
